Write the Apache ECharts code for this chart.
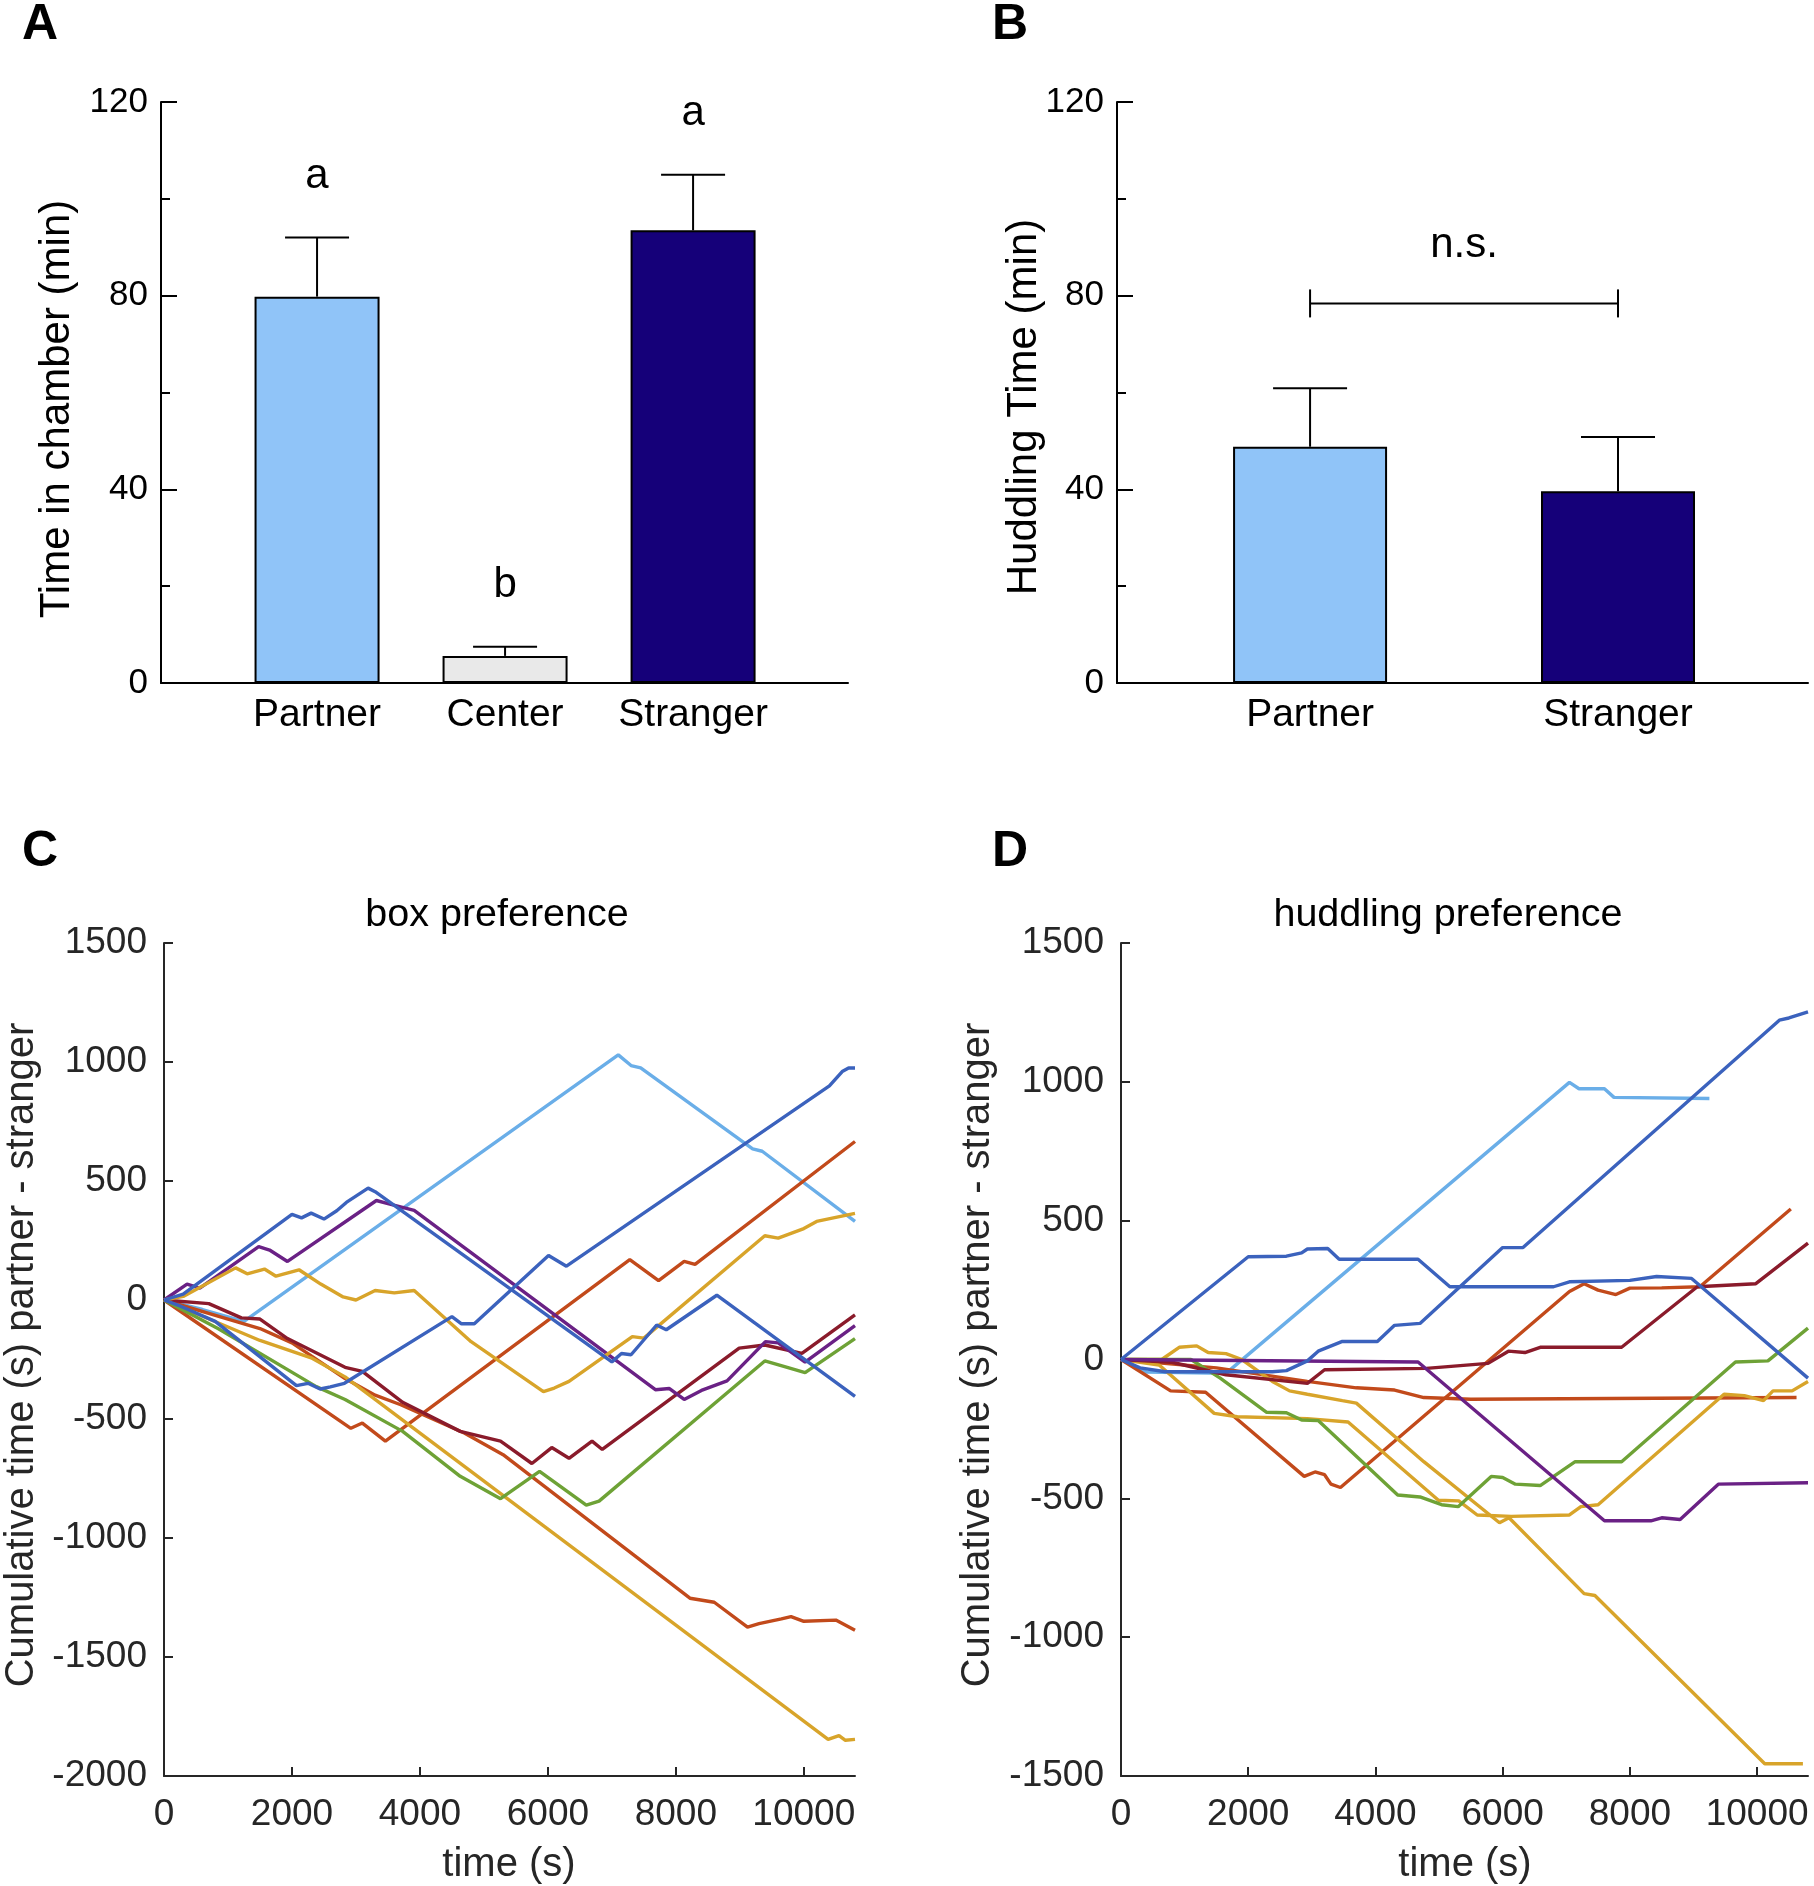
<!DOCTYPE html>
<html>
<head>
<meta charset="utf-8">
<script src="https://cdn.jsdelivr.net/npm/echarts@6/dist/echarts.min.js"></script>
<style>
html,body{margin:0;padding:0;background:#fff;}
#chart{width:1814px;height:1886px;}
</style>
</head>
<body>
<div id="chart"></div>
<script>
// ---------- Panel A data ----------
const chamberCats = ['Partner', 'Center', 'Stranger'];
const chamberMeans = [79.8, 5.6, 93.5];
const chamberErrTop = [92.0, 7.5, 105.0];
const chamberLetters = ['a', 'b', 'a'];
const chamberColors = ['#90c4f8', '#e9e9e9', '#150079'];

// ---------- Panel B data ----------
const huddleCats = ['Partner', 'Stranger'];
const huddleMeans = [48.8, 39.6];
const huddleErrTop = [60.9, 50.8];
const huddleColors = ['#90c4f8', '#150079'];
const huddleBracketY = 78.4;
const huddleBracketText = 'n.s.';

const timeTicks = [0, 2000, 4000, 6000, 8000, 10000];

// ---------- Panel C data (box preference) ----------
const boxLightBlue = [[0,0],[600,-40],[1250,-90],[7100,1030],[7300,985],[7450,975],[9200,635],[9350,625],[10800,330]];
const boxBlueA = [[0,0],[300,25],[2000,360],[2150,345],[2300,365],[2500,340],[2700,375],[2850,410],[3190,470],[3300,455],[7000,-260],[7150,-225],[7300,-230],[7700,-105],[7850,-125],[8640,20],[10800,-405]];
const boxBlueB = [[0,0],[250,-25],[800,-90],[2070,-360],[2250,-350],[2440,-374],[2600,-365],[2820,-350],[4500,-70],[4650,-100],[4850,-100],[6010,187],[6290,142],[10400,900],[10600,960],[10700,975],[10800,975]];
const boxPurple = [[0,0],[360,67],[560,50],[1480,224],[1650,210],[1930,162],[3320,418],[3500,405],[3910,377],[7680,-377],[7900,-372],[8130,-418],[8400,-380],[8800,-340],[9400,-175],[9600,-180],[10020,-261],[10800,-108]];
const boxMaroon = [[0,0],[700,-15],[1210,-75],[1500,-80],[1930,-162],[2830,-283],[3100,-300],[3730,-430],[4630,-552],[5260,-593],[5750,-687],[6060,-620],[6330,-665],[6690,-593],[6850,-628],[8990,-202],[9390,-189],[9970,-224],[10800,-62]];
const boxGreen = [[0,0],[850,-121],[2380,-364],[2830,-418],[3730,-552],[4630,-741],[5260,-835],[5870,-720],[6600,-862],[6800,-845],[9390,-256],[9700,-280],[10020,-305],[10800,-162]];
const boxOrangeA = [[0,0],[2920,-539],[3100,-517],[3460,-593],[7280,170],[7730,81],[8130,162],[8300,150],[10800,666]];
const boxOrangeB = [[0,0],[1000,-80],[1500,-120],[2000,-180],[2830,-330],[3300,-400],[3700,-440],[4200,-500],[4700,-560],[5300,-650],[8220,-1253],[8600,-1270],[9120,-1374],[9300,-1360],[9650,-1340],[9800,-1330],[10000,-1350],[10500,-1345],[10800,-1388]];
const boxYellowA = [[0,0],[300,15],[1120,135],[1300,110],[1570,130],[1750,100],[2110,127],[2450,67],[2800,13],[3000,0],[3300,40],[3600,30],[3910,40],[4800,-175],[5930,-385],[6100,-370],[6330,-342],[7320,-154],[7500,-160],[9390,270],[9600,260],[10000,300],[10200,330],[10800,364]];
const boxYellowB = [[0,0],[1500,-170],[2300,-243],[2830,-323],[10380,-1846],[10550,-1830],[10650,-1850],[10800,-1846]];

// ---------- Panel D data (huddling preference) ----------
const hudBlueA = [[0,0],[300,-30],[700,-44],[2380,-44],[2600,-40],[2930,-5],[3100,30],[3480,65],[4030,65],[4300,123],[4700,130],[6000,403],[6320,403],[10350,1222],[10500,1230],[10800,1252]];
const hudBlueB = [[0,0],[2000,370],[2600,372],[2840,384],[2930,398],[3250,400],[3430,361],[4670,361],[5170,262],[6800,262],[7050,280],[8000,285],[8420,299],[8970,292],[10800,-67]];
const hudLightBlue = [[0,0],[400,-45],[1650,-50],[7050,998],[7200,975],[7600,975],[7750,944],[9250,940]];
const hudOrangeA = [[0,0],[780,-113],[1330,-118],[2880,-421],[3050,-405],[3200,-415],[3300,-449],[3450,-461],[7050,245],[7280,273],[7500,250],[7780,234],[8000,257],[8500,258],[9100,262],[10530,542]];
const hudMaroon = [[0,0],[800,-10],[1650,-55],[2930,-86],[3200,-37],[4800,-32],[5770,-14],[6090,30],[6350,25],[6590,44],[7870,44],[9060,262],[9980,273],[10800,419]];
const hudOrangeB = [[0,0],[1500,-30],[2930,-79],[3700,-102],[4300,-110],[4760,-137],[5500,-143],[10620,-137]];
const hudPurple = [[0,0],[4670,-9],[7600,-581],[8330,-581],[8500,-570],[8790,-576],[9390,-449],[10800,-444]];
const hudGreen = [[0,0],[1100,0],[1560,-67],[2290,-190],[2600,-192],[2840,-218],[3100,-220],[4350,-488],[4700,-495],[5040,-523],[5300,-530],[5820,-421],[6000,-425],[6200,-449],[6590,-454],[7140,-368],[7870,-368],[9660,-9],[10170,-5],[10800,113]];
const hudYellowA = [[0,0],[640,0],[915,44],[1190,49],[1370,25],[1650,21],[1900,0],[2380,-79],[2650,-113],[2930,-125],[3480,-148],[3700,-157],[4760,-368],[5950,-588],[6100,-570],[7280,-843],[7450,-850],[10120,-1456],[10720,-1456]];
const hudYellowB = [[0,0],[600,-20],[1465,-194],[1830,-206],[2930,-213],[3570,-225],[4990,-507],[5310,-509],[5600,-560],[6135,-565],[7050,-560],[7230,-530],[7500,-523],[9480,-125],[9800,-130],[10100,-148],[10250,-113],[10550,-113],[10800,-79]];

const COL = {
  blue: '#3b62bd', lightBlue: '#6aaee8', orange: '#c24a1b', yellow: '#d8a42a',
  purple: '#6a2185', green: '#6ea236', maroon: '#8a1b2b'
};

const boxSeries = [
  [boxLightBlue, COL.lightBlue], [boxOrangeA, COL.orange], [boxOrangeB, COL.orange],
  [boxYellowB, COL.yellow], [boxGreen, COL.green], [boxMaroon, COL.maroon],
  [boxPurple, COL.purple], [boxYellowA, COL.yellow], [boxBlueB, COL.blue], [boxBlueA, COL.blue]
];
const hudSeries = [
  [hudLightBlue, COL.lightBlue], [hudOrangeA, COL.orange], [hudOrangeB, COL.orange],
  [hudYellowA, COL.yellow], [hudYellowB, COL.yellow], [hudGreen, COL.green], [hudMaroon, COL.maroon],
  [hudPurple, COL.purple], [hudBlueB, COL.blue], [hudBlueA, COL.blue]
];

const FONT = "'Liberation Sans', Arial, Helvetica, sans-serif";
const DARK = '#262626';
const plain = v => String(v);

const chart = echarts.init(document.getElementById('chart'), null, {renderer: 'canvas'});

function barYAxis(gridIndex) {
  return {
    type: 'value', gridIndex, min: 0, max: 120, interval: 40,
    axisLine: {show: true, onZero: false, lineStyle: {color: '#000', width: 2}},
    axisTick: {show: true, inside: true, length: 16, lineStyle: {color: '#000', width: 2}},
    minorTick: {show: true, splitNumber: 2, length: 9, lineStyle: {color: '#000', width: 2}},
    splitLine: {show: false}, minorSplitLine: {show: false},
    axisLabel: {fontFamily: FONT, fontSize: 35, color: '#000', margin: 13, formatter: plain}
  };
}
function timeXAxis(gridIndex) {
  return {
    type: 'value', gridIndex, min: 0, max: 10800,
    axisLine: {show: true, onZero: false, lineStyle: {color: DARK, width: 2}},
    axisTick: {show: true, inside: true, length: 9, customValues: timeTicks, lineStyle: {color: DARK, width: 2}},
    splitLine: {show: false},
    axisLabel: {fontFamily: FONT, fontSize: 37, color: DARK, margin: 20, customValues: timeTicks, formatter: plain}
  };
}
function prefYAxis(gridIndex, min, max) {
  return {
    type: 'value', gridIndex, min, max, interval: 500,
    axisLine: {show: true, onZero: false, lineStyle: {color: DARK, width: 2}},
    axisTick: {show: true, inside: true, length: 9, lineStyle: {color: DARK, width: 2}},
    splitLine: {show: false},
    axisLabel: {fontFamily: FONT, fontSize: 37, color: DARK, margin: 17, formatter: plain}
  };
}

function errRender(capHalf) {
  return function (params, api) {
    const x = api.value(0), top = api.value(1), err = api.value(2);
    const p0 = api.coord([x, top]), p1 = api.coord([x, err]);
    return {type: 'group', children: [
      {type: 'line', shape: {x1: p0[0], y1: p0[1], x2: p1[0], y2: p1[1]}, style: {stroke: '#000', lineWidth: 2}},
      {type: 'line', shape: {x1: p1[0] - capHalf, y1: p1[1], x2: p1[0] + capHalf, y2: p1[1]}, style: {stroke: '#000', lineWidth: 2}}
    ]};
  };
}
function letterRender(letters) {
  return function (params, api) {
    const p = api.coord([api.value(0), api.value(1)]);
    return {type: 'text', x: p[0], y: p[1] - 61, style: {
      text: letters[params.dataIndex], fontFamily: FONT, fontSize: 42, fill: '#000',
      align: 'center', verticalAlign: 'middle'}};
  };
}

const series = [];
// Panel A bars
series.push({
  type: 'bar', xAxisIndex: 0, yAxisIndex: 0, barWidth: 125,
  data: chamberMeans.map((v, i) => ({value: [i, v], itemStyle: {color: chamberColors[i]}})),
  itemStyle: {borderColor: '#000', borderWidth: 2}, z: 3
});
series.push({
  type: 'custom', xAxisIndex: 0, yAxisIndex: 0, renderItem: errRender(32),
  data: chamberMeans.map((v, i) => [i, v, chamberErrTop[i]]), z: 2
});
series.push({
  type: 'custom', xAxisIndex: 0, yAxisIndex: 0, renderItem: letterRender(chamberLetters),
  data: chamberErrTop.map((v, i) => [i, v]), z: 4
});
// Panel B bars
series.push({
  type: 'bar', xAxisIndex: 1, yAxisIndex: 1, barWidth: 154,
  data: huddleMeans.map((v, i) => ({value: [i, v], itemStyle: {color: huddleColors[i]}})),
  itemStyle: {borderColor: '#000', borderWidth: 2}, z: 3
});
series.push({
  type: 'custom', xAxisIndex: 1, yAxisIndex: 1, renderItem: errRender(37),
  data: huddleMeans.map((v, i) => [i, v, huddleErrTop[i]]), z: 2
});
series.push({
  type: 'custom', xAxisIndex: 1, yAxisIndex: 1,
  renderItem: function (params, api) {
    const a = api.coord([api.value(0), api.value(2)]);
    const b = api.coord([api.value(1), api.value(2)]);
    const st = {stroke: '#000', lineWidth: 2};
    return {type: 'group', children: [
      {type: 'line', shape: {x1: a[0], y1: a[1], x2: b[0], y2: b[1]}, style: st},
      {type: 'line', shape: {x1: a[0], y1: a[1] - 14, x2: a[0], y2: a[1] + 14}, style: st},
      {type: 'line', shape: {x1: b[0], y1: b[1] - 14, x2: b[0], y2: b[1] + 14}, style: st},
      {type: 'text', x: (a[0] + b[0]) / 2, y: a[1] - 58, style: {text: huddleBracketText,
        fontFamily: FONT, fontSize: 42, fill: '#000', align: 'center', verticalAlign: 'middle'}}
    ]};
  },
  data: [[0, 1, huddleBracketY]], z: 4
});
// Panel C & D lines
boxSeries.forEach(([d, c]) => series.push({
  type: 'line', xAxisIndex: 2, yAxisIndex: 2, data: d, showSymbol: false, symbol: 'none',
  lineStyle: {color: c, width: 3.4}, itemStyle: {color: c}, clip: true
}));
hudSeries.forEach(([d, c]) => series.push({
  type: 'line', xAxisIndex: 3, yAxisIndex: 3, data: d, showSymbol: false, symbol: 'none',
  lineStyle: {color: c, width: 3.4}, itemStyle: {color: c}, clip: true
}));

function txt(text, x, y, size, color, opts) {
  return Object.assign({type: 'text', x, y, style: {text, fontFamily: FONT, fontSize: size,
    fill: color, align: 'center', verticalAlign: 'middle'}}, opts || {});
}
function boldTxt(text, x, y) {
  return {type: 'text', x, y, style: {text, fontFamily: FONT, fontSize: 50, fontWeight: 'bold',
    fill: '#000', align: 'left', verticalAlign: 'middle'}};
}

const option = {
  animation: false,
  backgroundColor: '#fff',
  grid: [
    {left: 161, top: 102, width: 687, height: 581},
    {left: 1117, top: 102, width: 691, height: 581},
    {left: 164, top: 943, width: 691, height: 833},
    {left: 1121, top: 943, width: 687, height: 833}
  ],
  xAxis: [
    {type: 'value', gridIndex: 0, min: -0.83, max: 2.824,
      axisLine: {show: true, onZero: false, lineStyle: {color: '#000', width: 2}},
      axisTick: {show: false}, splitLine: {show: false},
      axisLabel: {fontFamily: FONT, fontSize: 39, color: '#000', margin: 13,
        customValues: [0, 1, 2], formatter: v => chamberCats[Math.round(v)]}},
    {type: 'value', gridIndex: 1, min: -0.627, max: 1.617,
      axisLine: {show: true, onZero: false, lineStyle: {color: '#000', width: 2}},
      axisTick: {show: false}, splitLine: {show: false},
      axisLabel: {fontFamily: FONT, fontSize: 39, color: '#000', margin: 13,
        customValues: [0, 1], formatter: v => huddleCats[Math.round(v)]}},
    timeXAxis(2),
    timeXAxis(3)
  ],
  yAxis: [
    barYAxis(0), barYAxis(1),
    prefYAxis(2, -2000, 1500),
    prefYAxis(3, -1500, 1500)
  ],
  series,
  graphic: [
    boldTxt('A', 22, 25), boldTxt('B', 992, 25), boldTxt('C', 22, 852), boldTxt('D', 992, 852),
    txt('Time in chamber (min)', 57, 409, 42, '#000', {rotation: Math.PI / 2}),
    txt('Huddling Time (min)', 1024, 407, 42, '#000', {rotation: Math.PI / 2}),
    txt('box preference', 497, 915, 39.5, '#000'),
    txt('huddling preference', 1448, 915, 39.5, '#000'),
    txt('Cumulative time (s) partner - stranger', 22, 1355, 40, DARK, {rotation: Math.PI / 2}),
    txt('Cumulative time (s) partner - stranger', 978, 1355, 40, DARK, {rotation: Math.PI / 2}),
    txt('time (s)', 509, 1865, 40, DARK),
    txt('time (s)', 1465, 1865, 40, DARK)
  ]
};
chart.setOption(option);
</script>
</body>
</html>
